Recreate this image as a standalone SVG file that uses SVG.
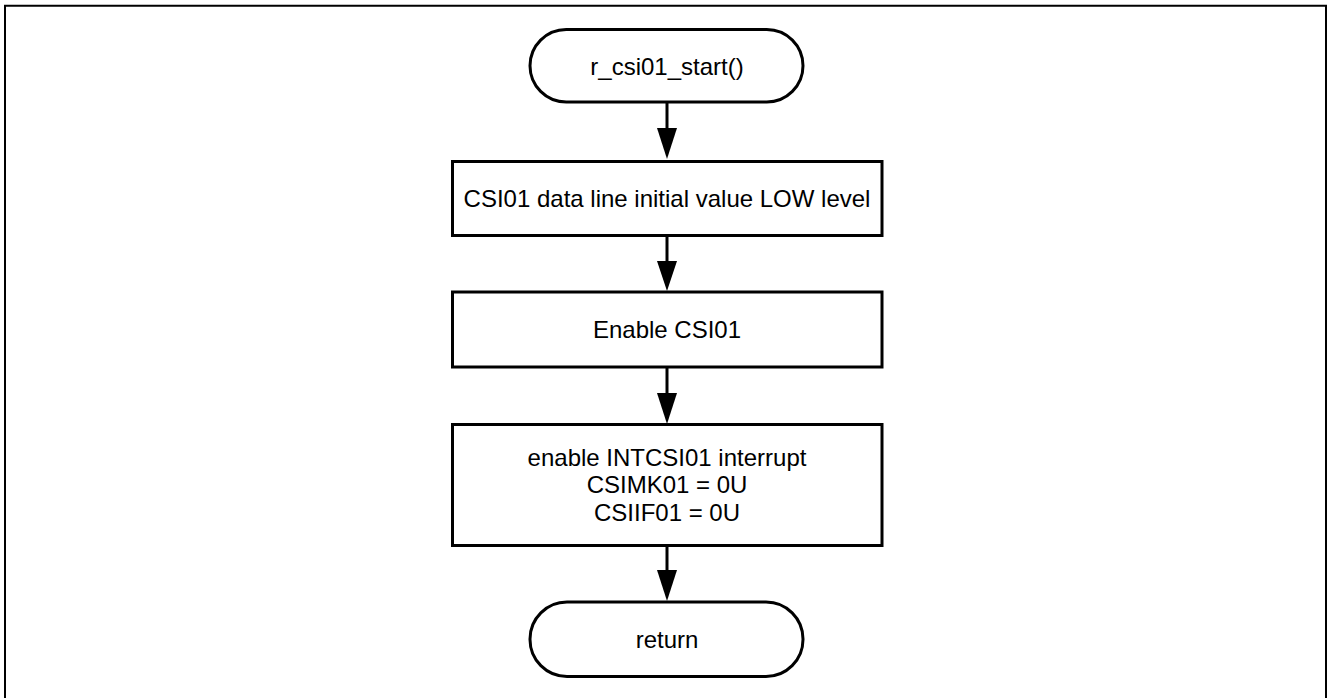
<svg xmlns="http://www.w3.org/2000/svg" width="1328" height="698" viewBox="0 0 1328 698">
<style>
.shape{fill:#fff;stroke:#000;stroke-width:3}
.lbl{font-family:"Liberation Sans",Arial,sans-serif;font-size:24px;fill:#000;text-anchor:middle}
.conn{stroke:#000;stroke-width:3;fill:none}
</style>
<rect x="0" y="0" width="1328" height="698" fill="#fff"/>
<path d="M5,700 V5.8 H1326 V700" fill="none" stroke="#000" stroke-width="2"/>
<g id="connectors">
<line class="conn" x1="667" y1="102" x2="667" y2="128"/>
<path d="M657,128 L677,128 L667,159 Z" fill="#000"/>
<line class="conn" x1="667" y1="235.5" x2="667" y2="261"/>
<path d="M657,261 L677,261 L667,291 Z" fill="#000"/>
<line class="conn" x1="667" y1="367" x2="667" y2="393"/>
<path d="M657,393 L677,393 L667,424 Z" fill="#000"/>
<line class="conn" x1="667" y1="545.5" x2="667" y2="570"/>
<path d="M657,570 L677,570 L667,601 Z" fill="#000"/>
</g>
<g id="start">
<rect class="shape" x="530" y="29.5" width="273" height="72.5" rx="36.25" ry="36.25"/>
<text class="lbl" x="667" y="74.5">r_csi01_start()</text>
</g>
<g id="step1">
<rect class="shape" x="452.5" y="161.5" width="429.5" height="74"/>
<text class="lbl" x="667" y="206.5">CSI01 data line initial value LOW level</text>
</g>
<g id="step2">
<rect class="shape" x="452.5" y="292" width="429.5" height="75"/>
<text class="lbl" x="667" y="338">Enable CSI01</text>
</g>
<g id="step3">
<rect class="shape" x="452.5" y="424.5" width="429.5" height="121"/>
<text class="lbl" x="667" y="465.5">enable INTCSI01 interrupt</text>
<text class="lbl" x="667" y="493">CSIMK01 = 0U</text>
<text class="lbl" x="667" y="521">CSIIF01 = 0U</text>
</g>
<g id="end">
<rect class="shape" x="530" y="602" width="273" height="74.5" rx="37" ry="37"/>
<text class="lbl" x="667" y="648">return</text>
</g>
</svg>
